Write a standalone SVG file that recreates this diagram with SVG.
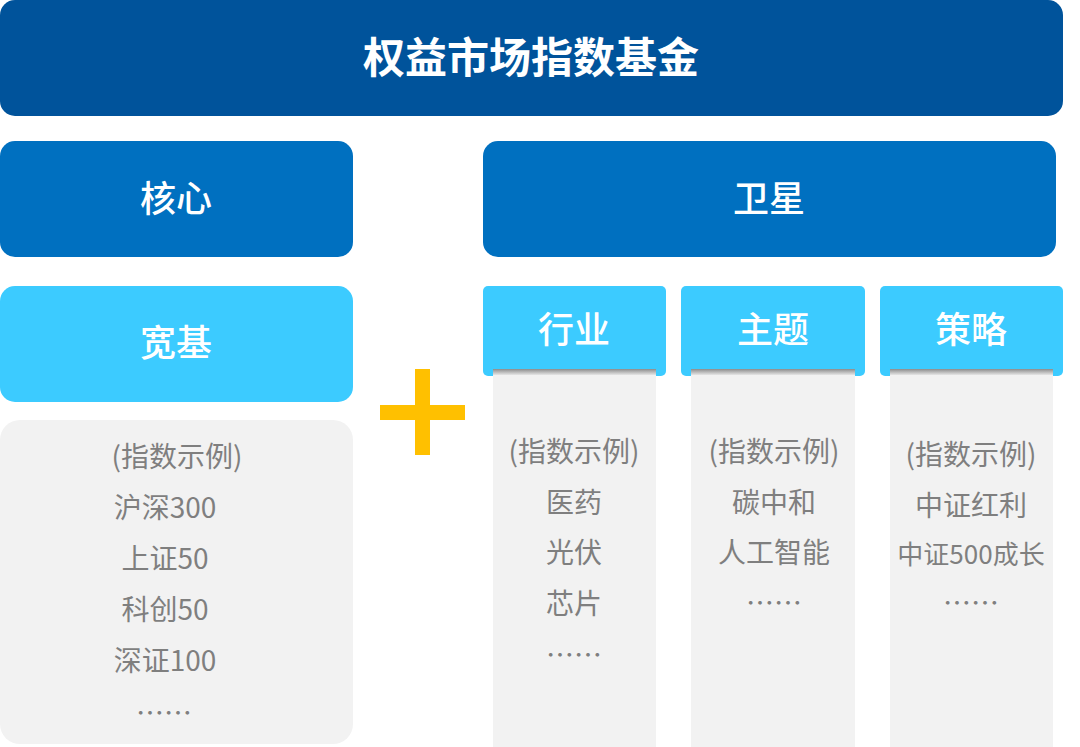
<svg xmlns="http://www.w3.org/2000/svg" width="1080" height="747" viewBox="0 0 1080 747">
<defs>
<linearGradient id="shadow" x1="0" y1="0" x2="0" y2="1">
<stop offset="0" stop-color="#8C8C8C"/>
<stop offset="1" stop-color="#E6E6E6"/>
</linearGradient>
</defs>
<style>
.cjk{font-family:"Noto Sans CJK SC","Noto Sans",sans-serif;text-anchor:middle}
.title{fill:#FFFFFF;font-size:42px;font-weight:700}
.head{fill:#FFFFFF;font-size:36px;font-weight:500}
.item{fill:#7F7F7F;font-size:28px;font-weight:400}
.small{font-size:26px}
.dark{fill:#00539B}
.mid{fill:#0070C0}
.light{fill:#3CCBFF}
.panel{fill:#F2F2F2}
.plus{fill:#FFC000}
</style>
<rect width="1080" height="747" fill="#FFFFFF"/>
<g id="title">
<rect class="dark" x="0" y="0" width="1063" height="116" rx="15"/>
<text class="cjk title" x="531" y="73">权益市场指数基金</text>
</g>
<g id="core">
<rect class="mid" x="0" y="141" width="353" height="116" rx="15"/>
<text class="cjk head" x="176" y="212">核心</text>
</g>
<g id="satellite">
<rect class="mid" x="483" y="141" width="573" height="116" rx="15"/>
<text class="cjk head" x="769" y="212">卫星</text>
</g>
<g id="broad">
<rect class="light" x="0" y="286" width="353" height="116" rx="15"/>
<text class="cjk head" x="176" y="356">宽基</text>
</g>
<g id="broad-examples">
<rect class="panel" x="0" y="420" width="353" height="324" rx="20"/>
<text class="cjk item" x="177" y="467">(指数示例)</text>
<text class="cjk item" x="165" y="518">沪深300</text>
<text class="cjk item" x="165" y="569">上证50</text>
<text class="cjk item" x="165" y="620">科创50</text>
<text class="cjk item" x="165" y="671">深证100</text>
<text class="cjk item" x="164" y="724">……</text>
</g>
<g id="plus">
<rect class="plus" x="415" y="369" width="15" height="86"/>
<rect class="plus" x="380" y="405" width="85" height="15"/>
</g>
<g id="industry">
<rect class="light" x="483" y="286" width="183" height="90" rx="5"/>
<text class="cjk head" x="574" y="343">行业</text>
<rect class="panel" x="493" y="369" width="163" height="378"/>
<rect x="493" y="369" width="163" height="6" fill="url(#shadow)"/>
<text class="cjk item" x="574" y="462">(指数示例)</text>
<text class="cjk item" x="574" y="513">医药</text>
<text class="cjk item" x="574" y="563">光伏</text>
<text class="cjk item" x="574" y="614">芯片</text>
<text class="cjk item" x="574" y="666">……</text>
</g>
<g id="theme">
<rect class="light" x="681" y="286" width="184" height="90" rx="5"/>
<text class="cjk head" x="773" y="343">主题</text>
<rect class="panel" x="691" y="369" width="164" height="378"/>
<rect x="691" y="369" width="164" height="6" fill="url(#shadow)"/>
<text class="cjk item" x="774" y="462">(指数示例)</text>
<text class="cjk item" x="774" y="513">碳中和</text>
<text class="cjk item" x="774" y="563">人工智能</text>
<text class="cjk item" x="774" y="614">……</text>
</g>
<g id="strategy">
<rect class="light" x="880" y="286" width="183" height="90" rx="5"/>
<text class="cjk head" x="971" y="343">策略</text>
<rect class="panel" x="890" y="369" width="163" height="378"/>
<rect x="890" y="369" width="163" height="6" fill="url(#shadow)"/>
<text class="cjk item" x="971" y="465">(指数示例)</text>
<text class="cjk item" x="971" y="516">中证红利</text>
<text class="cjk item small" x="971" y="564">中证500成长</text>
<text class="cjk item" x="971" y="614">……</text>
</g>
<g id="connectors"></g>
</svg>
